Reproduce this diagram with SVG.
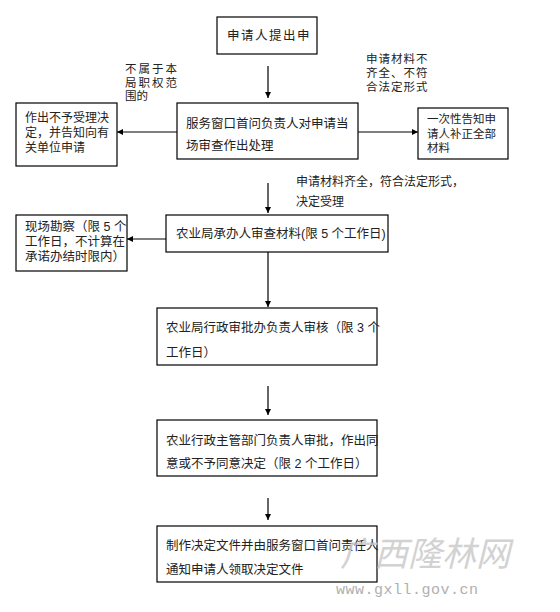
<svg xmlns="http://www.w3.org/2000/svg" width="560" height="612" viewBox="0 0 560 612">
<defs>
<style>
.box{fill:#fff;stroke:#000;stroke-width:1.2}
.t{font-family:"Liberation Sans","Noto Sans CJK SC",sans-serif;font-size:12.5px;fill:#222}
.s{font-size:11.5px}
.c{stroke:#000;stroke-width:1.2;fill:none;marker-end:url(#ah)}
.wm{font-family:"Liberation Sans","Noto Sans CJK SC",sans-serif;fill:#c8c8c8}
</style>
<marker id="ah" viewBox="0 0 10 10" refX="10" refY="5" markerWidth="6" markerHeight="6" markerUnits="userSpaceOnUse" orient="auto"><path d="M0,0 L10,5 L0,10 z" fill="#000"/></marker>
</defs>
<rect width="560" height="612" fill="#fff"/>
<g id="connectors">
<line class="c" x1="268" y1="66" x2="268" y2="98"/>
<line class="c" x1="177" y1="132" x2="117" y2="132"/>
<line class="c" x1="358" y1="132" x2="418" y2="132"/>
<line class="c" x1="268" y1="183" x2="268" y2="213"/>
<line class="c" x1="166" y1="239" x2="127" y2="239"/>
<line class="c" x1="268" y1="252" x2="268" y2="307"/>
<line class="c" x1="268" y1="386" x2="268" y2="415"/>
<line class="c" x1="268" y1="498" x2="268" y2="520"/>
</g>
<g id="n1"><rect class="box" x="217" y="17" width="100" height="37"/><text class="t" x="227" y="40" style="letter-spacing:1.5px">申请人提出申</text></g>
<g id="n2"><rect class="box" x="177" y="103" width="181" height="56"/><text class="t" x="186" y="128">服务窗口首问负责人对申请当</text><text class="t" x="186" y="150">场审查作出处理</text></g>
<g id="n3"><rect class="box" x="16" y="103" width="101" height="63"/><text class="t" x="25" y="122" style="font-size:12px">作出不予受理决</text><text class="t" x="25" y="137" style="font-size:12px">定，并告知向有</text><text class="t" x="25" y="152" style="font-size:12px">关单位申请</text></g>
<g id="n4"><rect class="box" x="418" y="108" width="90" height="51"/><text class="t s" x="427" y="123">一次性告知申</text><text class="t s" x="427" y="138">请人补正全部</text><text class="t s" x="427" y="152">材料</text></g>
<g id="l1"><text class="t s" x="125" y="73" style="letter-spacing:2px">不属于本</text><text class="t s" x="125" y="86.5" style="letter-spacing:2px">局职权范</text><text class="t s" x="125" y="100">围的</text></g>
<g id="l2"><text class="t s" x="366" y="63" style="letter-spacing:1px">申请材料不</text><text class="t s" x="366" y="77" style="letter-spacing:1px">齐全、不符</text><text class="t s" x="366" y="91" style="letter-spacing:1px">合法定形式</text></g>
<g id="l3"><text class="t" x="296" y="186" style="font-size:12px">申请材料齐全，符合法定形式，</text><text class="t" x="296" y="206" style="font-size:12px">决定受理</text></g>
<g id="n5"><rect class="box" x="166" y="215" width="222" height="37"/><text class="t" x="176" y="238">农业局承办人审查材料(限 5 个工作日)</text></g>
<g id="n6"><rect class="box" x="16" y="215" width="111" height="56"/><text class="t" x="25" y="231">现场勘察（限 5 个</text><text class="t" x="25" y="246">工作日，不计算在</text><text class="t" x="25" y="261">承诺办结时限内）</text></g>
<g id="n7"><rect class="box" x="157" y="308" width="220" height="57"/><text class="t" x="166" y="332">农业局行政审批办负责人审核（限 3 个</text><text class="t" x="166" y="357">工作日）</text></g>
<g id="n8"><rect class="box" x="157" y="420" width="220" height="56"/><text class="t" x="166" y="445">农业行政主管部门负责人审批，作出同</text><text class="t" x="166" y="468">意或不予同意决定（限 2 个工作日）</text></g>
<g id="n9"><rect class="box" x="157" y="526" width="220" height="56"/><text class="t" x="166" y="550">制作决定文件并由服务窗口首问责任人</text><text class="t" x="166" y="574">通知申请人领取决定文件</text></g>
<g id="watermark"><text class="wm" x="340" y="566" style="font-size:34px;font-style:italic;opacity:0.8">广西隆林网</text><text class="wm" x="336" y="594" style="font-size:15px;font-family:'Liberation Mono',monospace;letter-spacing:0.5px;fill:#b0b0b0">www.gxll.gov.cn</text></g>
</svg>
